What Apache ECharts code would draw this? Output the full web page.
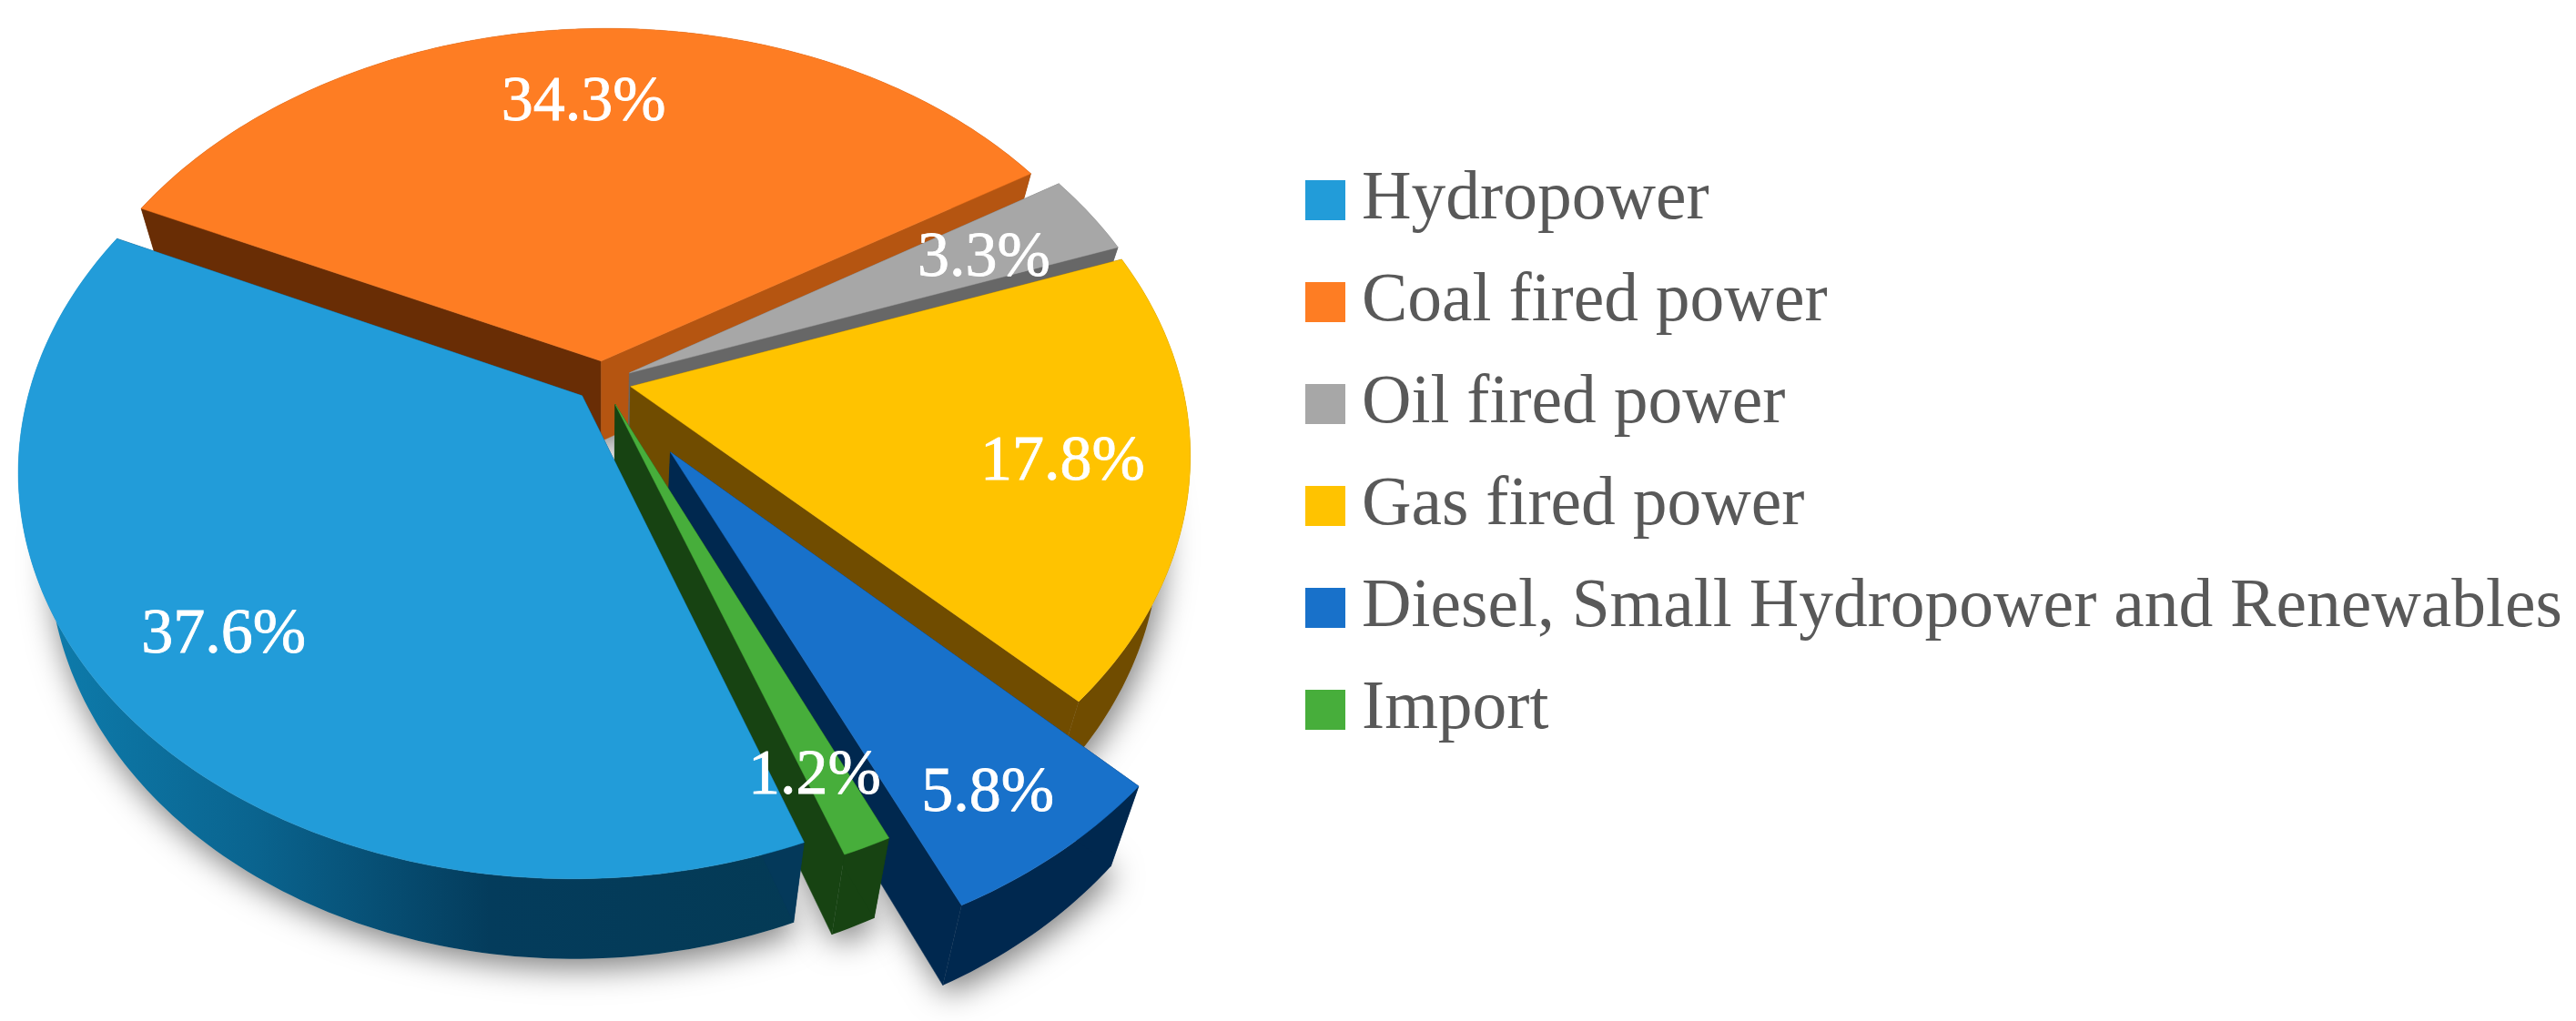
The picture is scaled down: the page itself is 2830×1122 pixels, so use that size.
<!DOCTYPE html>
<html>
<head>
<meta charset="utf-8">
<title>Electricity generation mix</title>
<style>
  html, body { margin: 0; padding: 0; background: #fff; }
  #chart { width: 2830px; height: 1122px; }
</style>
<script src="https://cdn.jsdelivr.net/npm/echarts@6/dist/echarts.min.js"></script>
</head>
<body>
<div id="chart"></div>
<script>
// Chart data
const categories = ['Hydropower', 'Coal fired power', 'Oil fired power', 'Gas fired power', 'Diesel, Small Hydropower and Renewables', 'Import'];
const shares = [37.6, 34.3, 3.3, 17.8, 5.8, 1.2];

// Slice styling
const topColors = ['#229CD9', '#FE7D23', '#A7A7A7', '#FFC300', '#1871CA', '#47AE3B'];
const startWallColors = ['#04395A', '#692D05', '#676767', '#704C00', '#00284F', '#174312'];
const endWallColors = ['#04395A', '#B55511', '#676767', '#704C00', '#00284F', '#174312'];
const explode = [0.05, 0.054, 0.054, 0.052, 0.21, 0.06];
const labelRadius = [0.79, 0.76, 0.75, 0.78, 0.855, 0.85];
const labelTurn = [0, 0, 0.8, 0.8, 1, 1]; // degrees off the slice's middle
const drawOrder = [5, 0, 1, 2, 3, 4]; // painted later = nearer the viewer

// Perspective of the pie plane
const CX = 662, CY = 420, RX = 605, RY = 435, PERSP = 0.17, SHEAR = 6;
const START_ANGLE = 159.5, DEPTH = 88, TAPER = 0.948;
const FONT = '"Liberation Serif", serif';

const rad = d => d * Math.PI / 180;

function project(u, v) {
  const w = 1 - PERSP * v;
  return [CX + RX * u / w - SHEAR * v, CY + RY * v / w];
}

// Same point on the underside of the pie
function lower(pt) {
  return [CX + (pt[0] - CX) * TAPER, pt[1] + DEPTH];
}

// Angles are clockwise from 12 o'clock
function sliceGeom(i) {
  const before = shares.slice(0, i).reduce((a, b) => a + b, 0);
  const total = shares.reduce((a, b) => a + b, 0);
  const a0 = START_ANGLE + before / total * 360;
  const a1 = a0 + shares[i] / total * 360;
  const mid = rad((a0 + a1) / 2);
  const ou = explode[i] * Math.sin(mid);
  const ov = -explode[i] * Math.cos(mid);
  const arc = [];
  const steps = Math.max(4, Math.ceil(a1 - a0));
  for (let s = 0; s <= steps; s++) {
    const a = rad(a0 + (a1 - a0) * s / steps);
    arc.push(project(ou + Math.sin(a), ov - Math.cos(a)));
  }
  return { apex: project(ou, ov), arc, ou, ov, mid };
}

function poly(points, fill, extra) {
  return { type: 'polygon', shape: { points }, style: Object.assign({ fill, stroke: fill, lineWidth: 0.5 }, extra) };
}

function renderSlice(i) {
  return function () {
    const g = sliceGeom(i);
    const first = g.arc[0], last = g.arc[g.arc.length - 1];
    const outerFill = i === 0
      ? { type: 'linear', x: 0, y: 0, x2: 1, y2: 0, colorStops: [
          { offset: 0, color: '#0E7FB0' }, { offset: 0.3, color: '#0A648F' },
          { offset: 0.6, color: '#043C5C' }, { offset: 1, color: '#043A55' }] }
      : startWallColors[i];
    const children = [
      poly(g.arc.concat(g.arc.map(lower).reverse()), outerFill, { stroke: null, lineWidth: 0 }),
      poly([g.apex, first, lower(first), lower(g.apex)], startWallColors[i]),
      poly([g.apex, last, lower(last), lower(g.apex)], endWallColors[i]),
      poly([g.apex].concat(g.arc), topColors[i])
    ];
    return { type: 'group', children };
  };
}

function renderShadow(params) {
  const g = sliceGeom(params.dataIndex);
  const pts = [lower(g.apex)].concat(g.arc.map(lower));
  return {
    type: 'polygon',
    shape: { points: pts },
    style: { fill: '#c4c4c4', shadowColor: 'rgba(0,0,0,0.5)', shadowBlur: 34, shadowOffsetX: 4, shadowOffsetY: 10 }
  };
}

function renderLabel(params, api) {
  const i = params.dataIndex;
  const g = sliceGeom(i);
  const a = g.mid + rad(labelTurn[i]);
  const pos = project(g.ou + labelRadius[i] * Math.sin(a), g.ov - labelRadius[i] * Math.cos(a));
  return {
    type: 'text',
    style: {
      x: pos[0], y: pos[1] + 4, text: api.value(0).toFixed(1) + '%',
      fill: '#fff', stroke: '#fff', lineWidth: 0.8,
      font: '70px ' + FONT, align: 'center', verticalAlign: 'middle'
    }
  };
}

const sliceSeries = categories.map((name, i) => ({
  type: 'custom',
  name,
  coordinateSystem: 'none',
  z: 10 + drawOrder[i],
  itemStyle: { color: topColors[i] },
  data: [shares[i]],
  renderItem: renderSlice(i),
  silent: true
}));

const chart = echarts.init(document.getElementById('chart'), null, { renderer: 'canvas' });
chart.setOption({
  animation: false,
  backgroundColor: '#fff',
  legend: {
    data: categories,
    orient: 'vertical',
    left: 1429,
    top: 177,
    icon: 'rect',
    itemWidth: 44,
    itemHeight: 44,
    itemGap: 36,
    selectedMode: false,
    textStyle: { fontFamily: FONT, fontSize: 75.5, color: '#595959', padding: [0, 0, 10, 13] }
  },
  series: [
    { type: 'custom', name: 'shadow', coordinateSystem: 'none', z: 1, silent: true, data: shares, renderItem: renderShadow },
    ...sliceSeries,
    { type: 'custom', name: 'labels', coordinateSystem: 'none', z: 50, silent: true, data: shares, renderItem: renderLabel }
  ]
});
</script>
</body>
</html>
